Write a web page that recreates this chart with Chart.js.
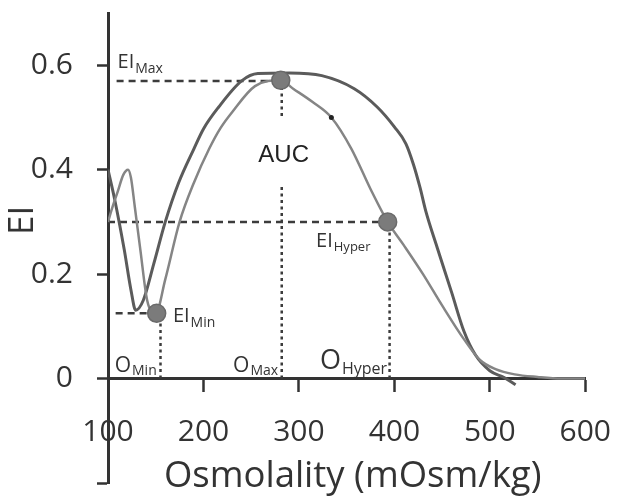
<!DOCTYPE html>
<html>
<head>
<meta charset="utf-8">
<script src="https://cdn.jsdelivr.net/npm/chart.js@4/dist/chart.umd.min.js"></script>
<style>
  html, body { margin: 0; padding: 0; background: #fff; }
  .chart-container { width: 635px; height: 496px; }
</style>
</head>
<body>
<div class="chart-container"><canvas id="myChart"></canvas></div>
<script>
// outer curve (darker, wider plateau)
const osmDark = [100, 107, 117, 124, 129, 137, 148, 160, 174, 190, 200, 216, 240, 257, 290, 324, 358, 382, 400, 412, 420, 427, 433, 445, 460, 473, 485, 500, 515, 527];
const eiDark = [0.40, 0.343, 0.247, 0.17, 0.131, 0.15, 0.22, 0.30, 0.375, 0.44, 0.478, 0.52, 0.57, 0.584, 0.585, 0.58, 0.555, 0.52, 0.482, 0.45, 0.41, 0.365, 0.32, 0.25, 0.165, 0.09, 0.045, 0.015, 0.002, -0.012];

// inner curve (lighter)
const osmLight = [100, 105, 110, 116, 121, 124, 128, 134, 141, 150, 160, 175, 190, 206, 218, 230, 254, 281, 294, 314, 334, 355, 375, 393, 410, 430, 450, 473, 490, 506, 526, 550, 575, 600];
const eiLight = [0.30, 0.33, 0.357, 0.39, 0.40, 0.385, 0.33, 0.245, 0.15, 0.125, 0.19, 0.30, 0.375, 0.44, 0.48, 0.51, 0.56, 0.571, 0.555, 0.53, 0.50, 0.44, 0.363, 0.30, 0.255, 0.20, 0.14, 0.075, 0.035, 0.018, 0.008, 0.003, 0.0, 0.0];

// EI_Min, EI_Max, EI_Hyper
const markerOsm = [151, 281, 393];
const markerEi = [0.125, 0.571, 0.30];

// dashed guides: [EI, from osm, to osm]
const hGuides = [[0.57, 109, 281], [0.30, 100, 393], [0.125, 108, 151]];
// dotted guides: [osm, from EI, to EI]
const vGuides = [[155, 0, 0.125], [282, 0, 0.372], [282, 0.503, 0.57], [395, 0, 0.30]];

const speckOsm = [334];
const speckEi = [0.50];

const xTicks = [100, 200, 300, 400, 500, 600];
const yTicks = [-0.2, 0, 0.2, 0.4, 0.6];

const pts = (xs, ys) => xs.map((x, i) => ({ x: x, y: ys[i] }));

const notes = [
  { text: 'EI', sub: 'Max', osm: 110, ei: 0.594, size: 20, subSize: 14, drop: 5 },
  { text: 'EI', sub: 'Min', osm: 168, ei: 0.108, size: 20, subSize: 14, drop: 5 },
  { text: 'EI', sub: 'Hyper', osm: 318, ei: 0.252, size: 20, subSize: 13, drop: 4 },
  { text: 'O', sub: 'Min', osm: 107, ei: 0.012, size: 21, subSize: 14, drop: 3 },
  { text: 'O', sub: 'Max', osm: 231, ei: 0.012, size: 21, subSize: 14, drop: 3 },
  { text: 'O', sub: 'Hyper', osm: 322, ei: 0.019, size: 27, subSize: 16, drop: 5 }
];

const labelPlugin = {
  id: 'labels',
  afterDatasetsDraw(chart) {
    const ctx = chart.ctx;
    const x = chart.scales.x;
    const y = chart.scales.y;
    ctx.save();
    ctx.fillStyle = '#333';
    ctx.textAlign = 'left';
    ctx.textBaseline = 'alphabetic';
    notes.forEach(n => {
      const px = x.getPixelForValue(n.osm);
      const py = y.getPixelForValue(n.ei);
      ctx.font = n.size + 'px "Open Sans"';
      ctx.fillText(n.text, px, py);
      const w = ctx.measureText(n.text).width;
      ctx.font = n.subSize + 'px "Open Sans"';
      ctx.fillText(n.sub, px + w + 1, py + n.drop);
    });
    ctx.font = '24px "Liberation Sans"';
    ctx.textAlign = 'center';
    ctx.textBaseline = 'middle';
    ctx.fillStyle = '#222';
    ctx.fillText('AUC', x.getPixelForValue(284), y.getPixelForValue(0.428));

    // axis titles
    ctx.fillStyle = '#333';
    ctx.font = '36.5px "Open Sans"';
    ctx.textBaseline = 'alphabetic';
    ctx.fillText('Osmolality (mOsm/kg)', (x.left + x.right) / 2 + 6, chart.height - 9);
    ctx.font = '35px "Open Sans"';
    ctx.textBaseline = 'middle';
    ctx.translate(y.left + 23, y.getPixelForValue(0.303));
    ctx.rotate(-Math.PI / 2);
    ctx.fillText('EI', 0, 0);
    ctx.restore();
  }
};

const datasets = [];
datasets.push({
  data: pts(markerOsm, markerEi),
  showLine: false,
  pointRadius: 9,
  pointBackgroundColor: '#7b7b7b',
  pointBorderColor: '#6a6a6a',
  pointBorderWidth: 1.5,
  order: 0
});
datasets.push({
  data: pts(speckOsm, speckEi),
  showLine: false,
  pointRadius: 2.5,
  pointBackgroundColor: '#222',
  pointBorderWidth: 0,
  order: 1
});
datasets.push({
  data: pts(osmLight, eiLight),
  borderColor: '#858585',
  borderWidth: 2.5,
  pointRadius: 0,
  cubicInterpolationMode: 'monotone',
  order: 3
});
datasets.push({
  data: pts(osmDark, eiDark),
  borderColor: '#5b5b5b',
  borderWidth: 3,
  pointRadius: 0,
  cubicInterpolationMode: 'monotone',
  order: 4
});
hGuides.forEach(g => {
  datasets.push({
    data: [{ x: g[1], y: g[0] }, { x: g[2], y: g[0] }],
    borderColor: '#3c3c3c',
    borderWidth: 2.5,
    borderDash: [7, 5],
    pointRadius: 0,
    order: 5
  });
});
vGuides.forEach(g => {
  datasets.push({
    data: [{ x: g[0], y: g[1] }, { x: g[0], y: g[2] }],
    borderColor: '#3c3c3c',
    borderWidth: 2.5,
    borderDash: [3, 3.5],
    pointRadius: 0,
    order: 5
  });
});

const canvas = document.getElementById('myChart');
const ctx = canvas.getContext('2d');
const myChart = new Chart(ctx, {
  type: 'line',
  data: { datasets: datasets },
  plugins: [labelPlugin],
  options: {
    responsive: true,
    maintainAspectRatio: false,
    animation: false,
    layout: { padding: { left: 0, right: 32, top: 13, bottom: 13 } },
    plugins: {
      legend: { display: false },
      tooltip: { enabled: false }
    },
    scales: {
      x: {
        type: 'linear',
        position: { y: 0 },
        min: 100,
        max: 600,
        afterBuildTicks: scale => { scale.ticks = xTicks.map(v => ({ value: v })); },
        border: { display: true, color: '#333', width: 3 },
        grid: { drawOnChartArea: false, drawTicks: true, tickLength: 12, tickWidth: 2.5, tickColor: '#333' },
        ticks: { padding: 24, color: '#333', font: { family: 'Open Sans', size: 30 } }
      },
      y: {
        type: 'linear',
        position: 'left',
        min: -0.2,
        max: 0.7,
        afterBuildTicks: scale => { scale.ticks = yTicks.map(v => ({ value: v })); },
        afterFit: scale => { scale.width = 108; scale.paddingTop = 0; scale.paddingBottom = 0; },
        border: { display: true, color: '#333', width: 3 },
        grid: { drawOnChartArea: false, drawTicks: true, tickLength: 11, tickWidth: 2.5, tickColor: '#333' },
        ticks: {
          padding: 24,
          color: '#333',
          font: { family: 'Open Sans', size: 30 },
          callback: v => (v < 0 ? '' : (v === 0 ? '0' : v.toFixed(1)))
        }
      }
    }
  }
});
</script>
</body>
</html>
